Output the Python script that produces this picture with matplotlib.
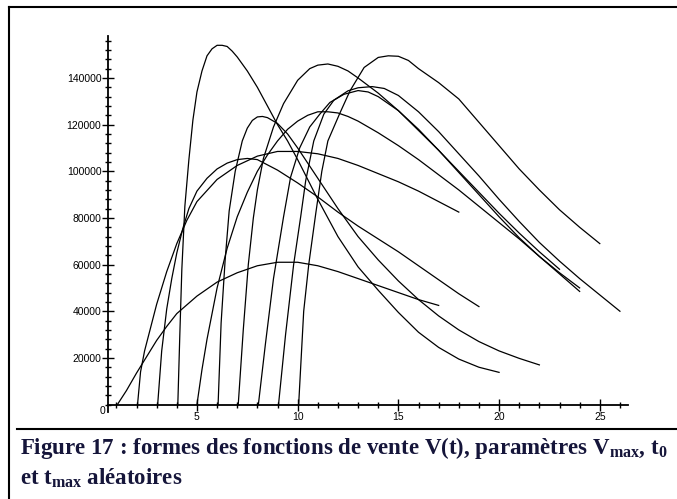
import matplotlib
matplotlib.use("Agg")
import matplotlib.pyplot as plt
from matplotlib.lines import Line2D
from matplotlib.ticker import MultipleLocator, FixedLocator

plt.rcParams['font.family'] = ['Liberation Sans', 'DejaVu Sans']
plt.rcParams['mathtext.fontset'] = 'custom'
plt.rcParams['mathtext.rm'] = 'Liberation Serif:bold'
plt.rcParams['mathtext.it'] = 'Liberation Serif:bold'
plt.rcParams['mathtext.bf'] = 'Liberation Serif:bold'

# sales curves V(t), one per start date t0
t_1 = [1.05, 1.5, 2, 2.5, 3, 3.5, 4, 5, 6, 7, 8, 9, 10, 11, 12, 13, 14, 15, 16, 17]
v_1 = [0, 6000, 13500, 20500, 27500, 33500, 39000, 46500, 52500, 56500, 59500, 61000, 61000,
       59500, 57000, 54000, 51000, 48000, 45000, 42500]

t_2 = [2.05, 2.2, 2.4, 2.7, 3, 3.5, 4, 4.5, 5, 6, 7, 8, 9, 10, 11, 12, 13, 14, 15, 16, 17, 18]
v_2 = [0, 14000, 23000, 33000, 43000, 57000, 69000, 79000, 87000, 96500, 102500, 106500, 108500,
       108500, 107500, 105500, 102500, 99000, 95500, 91500, 87000, 82500]

t_3 = [3.05, 3.25, 3.5, 3.75, 4, 4.3, 4.6, 5, 5.5, 6, 6.5, 7, 7.5, 8, 9, 10, 11, 12, 13, 14, 15,
       16, 17, 18, 19]
v_3 = [0, 23000, 41000, 54000, 65000, 75500, 84000, 91500, 97000, 101000, 103500, 105000, 105500,
       105000, 100500, 95000, 89000, 82500, 76500, 71000, 65500, 59500, 53500, 47500, 42000]

t_4 = [4.05, 4.15, 4.25, 4.4, 4.6, 4.8, 5, 5.25, 5.5, 5.75, 6, 6.25, 6.5, 6.75, 7, 7.5, 8, 8.5, 9,
       9.5, 10, 11, 12, 13, 14, 15, 16, 17, 18, 19, 20]
v_4 = [0, 30000, 58000, 85000, 105000, 122000, 134000, 143000, 149500, 152500, 154000, 154000,
       153500, 151500, 149000, 143000, 136000, 128000, 120000, 113000, 105000, 88000, 72000, 59000,
       49000, 39500, 31000, 24500, 19500, 16000, 13800]

t_5 = [5, 5.25, 5.5, 6, 6.5, 7, 7.5, 8, 8.5, 9, 9.5, 10, 10.5, 11, 11.5, 12, 12.5, 13, 14, 15, 16,
       17, 18, 19, 20, 21, 22, 23, 24]
v_5 = [0, 15000, 28000, 50000, 67000, 80500, 91000, 100000, 107000, 113000, 118000, 121500, 124000,
       125500, 125500, 125000, 123500, 121500, 116500, 111000, 105000, 98500, 92000, 85000, 78000,
       71000, 63500, 56000, 48500]

t_6 = [6.05, 6.2, 6.4, 6.6, 6.9, 7.25, 7.5, 7.75, 8, 8.25, 8.5, 9, 9.5, 10, 11, 12, 13, 14, 15, 16,
       17, 18, 19, 20, 21, 22]
v_6 = [0, 35000, 62000, 83000, 100000, 113000, 118500, 121800, 123300, 123500, 123000, 120500,
       116000, 110000, 97000, 84000, 72000, 62000, 53000, 45000, 38000, 32000, 27000, 23000, 19800,
       17000]

t_7 = [7.05, 7.3, 7.55, 7.8, 8, 8.3, 8.8, 9.3, 10, 10.6, 11, 11.5, 12, 12.5, 13, 14, 15, 16, 17, 18,
       19, 20, 21, 22, 23]
v_7 = [0, 32000, 60000, 80000, 92000, 105500, 119000, 129000, 139000, 144000, 145500, 146000, 145000,
       143000, 140000, 133500, 126000, 117500, 109000, 100000, 91000, 82000, 73500, 65500, 58000]

t_8 = [8.05, 8.4, 8.8, 9.3, 9.65, 10.1, 10.6, 11.1, 11.6, 12.3, 13, 13.5, 14, 15, 16, 17, 18, 19, 20,
       21, 22, 23, 24]
v_8 = [0, 26000, 54000, 80500, 97500, 110000, 119000, 124500, 129500, 133000, 134600, 134000,
       132000, 126000, 118000, 109000, 99500, 90000, 80500, 71500, 63500, 56500, 50000]

t_9 = [9.05, 9.4, 9.8, 10.15, 10.4, 10.8, 11.3, 11.8, 12.5, 13, 13.7, 14.3, 15, 16, 17, 18, 19, 20,
       21, 22, 23, 24, 25, 26]
v_9 = [0, 30000, 60000, 80500, 96000, 113000, 124500, 130500, 134500, 135800, 136300, 135500,
       132500, 125500, 117000, 107500, 98000, 88000, 78500, 69500, 61500, 54000, 47000, 40000]

t_10 = [10.05, 10.3, 10.55, 10.9, 11.2, 11.5, 12.1, 12.6, 13.3, 14, 14.5, 15, 15.5, 16, 17, 18, 19,
        20, 21, 22, 23, 24, 25]
v_10 = [0, 40000, 60000, 82000, 100000, 113000, 125000, 134500, 144500, 148800, 149500, 149300,
        147500, 144000, 138000, 131000, 121000, 111000, 101000, 92000, 83500, 76000, 69000]

x_labels = [5, 10, 15, 20, 25]
y_labels = [20000, 40000, 60000, 80000, 100000, 120000, 140000]

fig = plt.figure(figsize=(6.77, 4.99), dpi=100)
ax = fig.add_axes([0.16, 0.1743, 0.7676, 0.7536])

for t, v in [(t_1, v_1), (t_2, v_2), (t_3, v_3), (t_4, v_4), (t_5, v_5),
             (t_6, v_6), (t_7, v_7), (t_8, v_8), (t_9, v_9), (t_10, v_10)]:
    ax.plot(t, v, color='black', lw=0.9)

ax.set_xlim(0.6, 26.4)
ax.set_ylim(-3200, 158000)
ax.spines['top'].set_visible(False)
ax.spines['right'].set_visible(False)
ax.spines['bottom'].set_position(('data', 0))
ax.spines['left'].set_linewidth(1.3)
ax.spines['bottom'].set_linewidth(1.3)

ax.xaxis.set_major_locator(FixedLocator(x_labels))
ax.xaxis.set_minor_locator(MultipleLocator(1))
ax.yaxis.set_major_locator(FixedLocator(y_labels))
ax.yaxis.set_minor_locator(MultipleLocator(4000))
ax.tick_params(which='major', direction='inout', length=8, width=1, labelsize=7.5, pad=1)
ax.tick_params(which='minor', direction='inout', length=5, width=1)
ax.set_yticklabels([str(v) for v in y_labels])
ax.annotate('0', xy=(0.6, 0), xytext=(-2, -1), textcoords='offset points',
            fontsize=7.5, ha='right', va='top')

# frame and caption
fig.add_artist(Line2D([9 / 677, 9 / 677], [0, 1 - 7 / 499], color='black', lw=1.5))
fig.add_artist(Line2D([9 / 677, 1], [1 - 7 / 499, 1 - 7 / 499], color='black', lw=1.5))
fig.add_artist(Line2D([17 / 677, 1], [1 - 429 / 499, 1 - 429 / 499], color='black', lw=1.5))

cap_color = '#15153a'
fig.text(20 / 677, 1 - 454 / 499,
         r'Figure 17 : formes des fonctions de vente V(t), paramètres V$_{\mathrm{max}}$, t$_{0}$',
         fontsize=16.5, family='Liberation Serif', weight='bold', color=cap_color)
fig.text(20 / 677, 1 - 485 / 499, r'et t$_{\mathrm{max}}$ aléatoires',
         fontsize=16.5, family='Liberation Serif', weight='bold', color=cap_color)

fig.savefig('out.png', dpi=100)
